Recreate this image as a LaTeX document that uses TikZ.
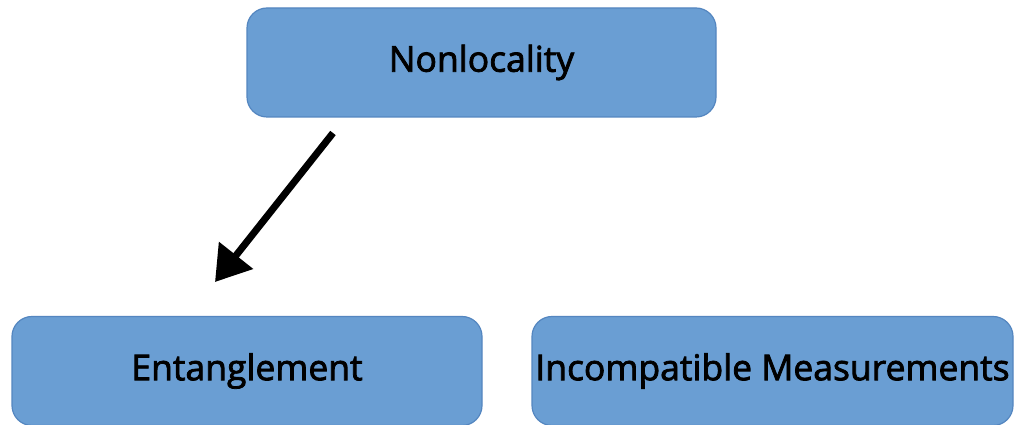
\documentclass[tikz,border=0pt]{standalone}
\usepackage{fontspec}
\setmainfont{Open Sans}[FakeBold=2.2]
\usetikzlibrary{arrows.meta}
\definecolor{boxfill}{RGB}{106,158,211}
\definecolor{boxline}{RGB}{84,134,192}
\begin{document}
\begin{tikzpicture}[x=1pt,y=1pt,
  box/.style={draw=boxline, line width=1.2pt, fill=boxfill, rounded corners=20pt,
    minimum height=109pt, inner sep=0pt, font=\fontsize{35.5}{39}\selectfont, text=black},
  link/.style={line width=7pt, -{Triangle[length=34pt,width=42pt]}}]
\useasboundingbox (0,0) rectangle (1014,425);
\clip (0,0) rectangle (1014,425);
\fill[white] (0,0) rectangle (1014,425);
\node[box, minimum width=469pt] (nonloc) at (481.5,362.5) {Nonlocality};
\node[box, minimum width=470pt] (ent) at (247,54) {Entanglement};
\node[box, minimum width=481pt] (inc) at (772.5,54) {Incompatible Measurements};
\coordinate (s) at (333,292);
\coordinate (t) at (215,143);
\draw[link] (s) -- (t);
\end{tikzpicture}
\end{document}
